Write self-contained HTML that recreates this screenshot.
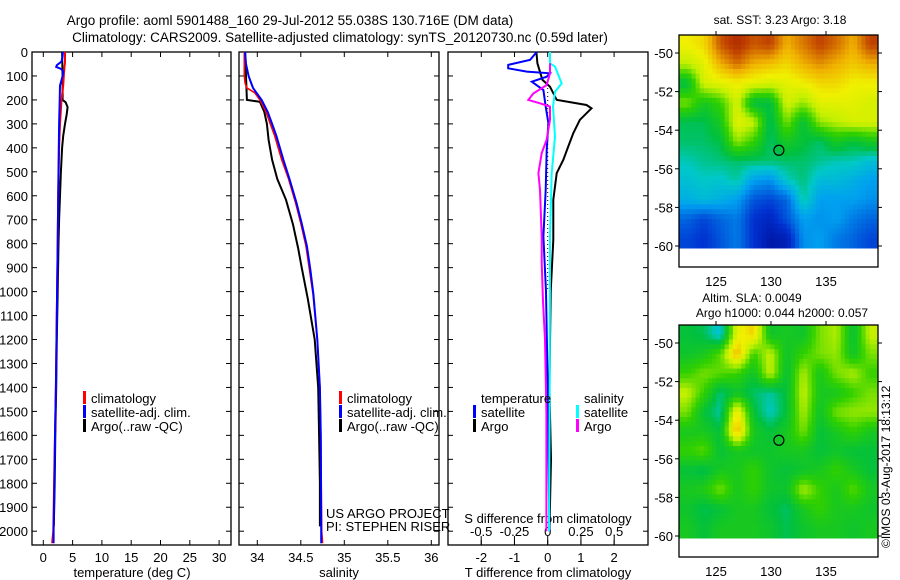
<!DOCTYPE html>
<html><head><meta charset="utf-8">
<style>
body{margin:0;background:#fff;}
svg{display:block;font-family:"Liberation Sans",sans-serif;}
text{fill:#000;}
</style></head>
<body>
<svg id="fig" width="900" height="580" viewBox="0 0 900 580" xmlns="http://www.w3.org/2000/svg">
<text x="290" y="25" font-size="13.5" text-anchor="middle">Argo profile: aoml 5901488_160 29-Jul-2012 55.038S 130.716E (DM data)</text>
<text x="340" y="42" font-size="13.5" text-anchor="middle">Climatology: CARS2009. Satellite-adjusted climatology: synTS_20120730.nc (0.59d later)</text>
<text x="780" y="24" font-size="12" text-anchor="middle">sat. SST: 3.23 Argo: 3.18</text>
<text x="752" y="302" font-size="12" text-anchor="middle">Altim. SLA: 0.0049</text>
<text x="782" y="317" font-size="12" text-anchor="middle">Argo h1000: 0.044 h2000: 0.057</text>
<text transform="translate(890,548) rotate(-90)" font-size="12">©IMOS 03-Aug-2017 18:13:12</text>
<g id="layer"></g>
</svg>
<script>
// ---------- data ----------
const depthTicks = [0,100,200,300,400,500,600,700,800,900,1000,1100,1200,1300,1400,1500,1600,1700,1800,1900,2000];
const tempTicks = [0,5,10,15,20,25,30];
const salTicks = [34,34.5,35,35.5,36];
const dTTicks = [-2,-1,0,1,2];
const dSTicks = [-0.5,-0.25,0,0.25,0.5];
const dSTickLabels = ["-0.5","-0.25","0","0.25","0.5"];

const depthT = [0,20,40,55,62,70,80,100,140,200,300,400,600,800,1000,1200,1400,1600,1800,2000,2050];
const tempClim = [3.7,3.7,3.7,3.65,3.6,3.6,3.55,3.5,3.4,3.1,2.85,2.7,2.55,2.45,2.35,2.25,2.15,2.0,1.85,1.7,1.5];
const tempSat = [3.35,3.3,3.1,2.3,2.2,3.0,3.4,3.3,2.85,2.8,2.7,2.65,2.55,2.45,2.35,2.25,2.15,2.0,1.9,1.75,1.75];
const depthTA = [0,50,100,150,200,210,230,260,300,350,400,500,600,700,800,1000,1200,1400,1600,1800,1980];
const tempArgo = [3.2,3.25,3.3,3.3,3.3,3.8,4.15,4.0,3.7,3.4,3.2,3.0,2.85,2.7,2.6,2.45,2.3,2.2,2.05,1.95,1.8];

const depthS = [0,50,100,130,150,170,200,250,300,350,450,530,630,715,810,910,1010,1200,1400,1600,2000,2050];
const salSat = [33.86,33.87,33.90,33.93,33.95,33.99,34.05,34.12,34.17,34.22,34.30,34.37,34.45,34.51,34.57,34.61,34.645,34.69,34.72,34.73,34.735,34.735];
const salClim = [33.85,33.85,33.85,33.86,33.88,33.97,34.03,34.10,34.15,34.20,34.28,34.36,34.44,34.50,34.56,34.60,34.64,34.69,34.72,34.73,34.74,34.75];
const depthSA = [0,100,200,208,250,300,367,450,530,617,720,820,900,1030,1200,1400,1600,1800,1980];
const salArgo = [33.86,33.87,33.88,34.03,34.08,34.11,34.13,34.17,34.23,34.33,34.41,34.47,34.51,34.58,34.66,34.70,34.71,34.72,34.72];

const dTSatDepth = [0,33,54,68,82,89,103,124,159,228,297,408,575,770,1000,1400,2000];
const dTSat = [-0.33,-0.53,-1.19,-1.19,-0.63,0.07,-0.03,-0.48,-0.13,-0.06,0.02,-0.03,-0.06,-0.13,-0.05,0.0,0.05];
const dTArgoDepth = [0,47,116,145,200,221,235,283,339,394,450,506,617,784,1000,1400,1700,2000];
const dTArgo = [-0.34,-0.31,-0.16,0.07,0.27,1.17,1.32,0.97,0.77,0.62,0.47,0.27,0.17,0.17,0.09,0.05,0.1,0.05];
const dSSatDepth = [0,47,61,131,166,228,353,506,770,1400,2000];
const dSSat = [0.017,0.017,0.055,0.105,0.055,0.04,0.055,0.03,0.017,0.015,0.01];
const dSArgoDepth = [47,89,138,173,200,214,228,283,367,422,506,575,770,880,1040,1200,1500,2000];
const dSArgo = [0.017,0.017,-0.008,-0.108,-0.146,-0.058,0.017,0.017,-0.008,-0.045,-0.07,-0.058,-0.045,-0.045,-0.035,-0.02,-0.01,-0.01];

const sstGrid = [
[0.72,0.75,0.88,0.93,0.88,0.9,0.8,0.85,0.9,0.86,0.8,0.9],
[0.65,0.7,0.8,0.86,0.8,0.78,0.75,0.8,0.83,0.8,0.77,0.8],
[0.45,0.68,0.7,0.72,0.7,0.68,0.7,0.72,0.75,0.75,0.72,0.72],
[0.6,0.5,0.55,0.68,0.45,0.45,0.68,0.62,0.7,0.7,0.7,0.68],
[0.44,0.44,0.5,0.7,0.66,0.43,0.6,0.46,0.62,0.65,0.68,0.68],
[0.43,0.43,0.45,0.62,0.55,0.43,0.5,0.46,0.43,0.5,0.46,0.5],
[0.39,0.41,0.42,0.43,0.43,0.43,0.43,0.43,0.41,0.39,0.39,0.36],
[0.36,0.38,0.37,0.4,0.3,0.28,0.38,0.42,0.35,0.35,0.33,0.3],
[0.33,0.35,0.33,0.3,0.2,0.18,0.22,0.4,0.3,0.3,0.3,0.28],
[0.22,0.18,0.22,0.25,0.15,0.12,0.2,0.3,0.28,0.3,0.25,0.22],
[0.18,0.15,0.2,0.25,0.15,0.08,0.1,0.28,0.3,0.25,0.22,0.18]];
const slaGrid = [
[0.46,0.44,0.36,0.7,0.76,0.48,0.5,0.48,0.6,0.64,0.46,0.66],
[0.48,0.5,0.58,0.8,0.55,0.66,0.48,0.55,0.6,0.62,0.48,0.6],
[0.55,0.6,0.58,0.55,0.48,0.66,0.46,0.64,0.5,0.6,0.64,0.55],
[0.66,0.55,0.42,0.48,0.43,0.4,0.46,0.66,0.5,0.5,0.55,0.6],
[0.6,0.46,0.4,0.74,0.46,0.38,0.46,0.64,0.48,0.6,0.62,0.62],
[0.5,0.5,0.46,0.8,0.5,0.46,0.5,0.6,0.46,0.5,0.55,0.5],
[0.55,0.58,0.46,0.5,0.48,0.48,0.5,0.5,0.46,0.48,0.46,0.46],
[0.46,0.44,0.5,0.5,0.55,0.48,0.46,0.48,0.5,0.55,0.5,0.46],
[0.5,0.52,0.6,0.5,0.55,0.48,0.48,0.64,0.55,0.5,0.58,0.5],
[0.48,0.44,0.46,0.5,0.5,0.46,0.43,0.5,0.55,0.5,0.5,0.48],
[0.5,0.46,0.5,0.5,0.5,0.48,0.44,0.48,0.5,0.5,0.48,0.5]];
const lonTicks = [125,130,135];
const latTicks = [-50,-52,-54,-56,-58,-60];
const floatLon = 130.716, floatLat = -55.038;

// ---------- helpers ----------
const NS = "http://www.w3.org/2000/svg";
const layer = document.getElementById('layer');
function mk(tag, attrs, parent){ const e=document.createElementNS(NS,tag); for(const k in attrs) e.setAttribute(k,attrs[k]); (parent||layer).appendChild(e); return e; }
function txt(x,y,s,size,anchor,parent){ const t=mk('text',{x:x,y:y,'font-size':size,'text-anchor':anchor||'start'},parent); t.textContent=s; return t; }

const TOP=52, BOT=545;
const yD = d => TOP + d*0.2396;
const xT = t => 43.3 + t*5.86;
const xS = s => 257.3 + (s-34)*87;
const xDT = v => 547.7 + v*33.2;
const xDS = v => 547.7 + v*133;
const panels = [[32,231],[239,439],[448,648]];

panels.forEach((p,i)=>{
  const g = mk('g',{});
  
  
  const r = mk('rect',{x:p[0],y:TOP,width:p[1]-p[0],height:BOT-TOP,fill:'none',stroke:'#000','stroke-width':1.3},g);
  
  
  depthTicks.forEach(d=>{
    mk('line',{x1:p[0],x2:p[0]+5,y1:yD(d),y2:yD(d),stroke:'#000'},g);
    mk('line',{x1:p[1],x2:p[1]-5,y1:yD(d),y2:yD(d),stroke:'#000'},g);
  });
});
depthTicks.forEach(d=>{
  const t = txt(28,yD(d)+5,String(d),13,'end');
  
  
});
function xAxis(ticks, fx, labels, y, pi, name){
  ticks.forEach((v,i)=>{
    const x=fx(v);
    mk('line',{x1:x,x2:x,y1:TOP,y2:TOP+5,stroke:'#000'});
    mk('line',{x1:x,x2:x,y1:BOT,y2:BOT-5,stroke:'#000'});
    const t=txt(x,y,labels?labels[i]:String(v),13,'middle');
    
    
  });
}
xAxis(tempTicks,xT,null,562,0,'temperature-tick-label');
xAxis(salTicks,xS,null,562,1,'salinity-tick-label');
xAxis(dTTicks,xDT,null,562,2,'t-diff-tick-label');
dSTicks.forEach((v,i)=>{
  const x=xDS(v);
  mk('line',{x1:x,x2:x,y1:BOT,y2:BOT-9,stroke:'#000'});
  const t=txt(x,536,dSTickLabels[i],13,'middle');
  
  
});
[[132,'temperature (deg C)','x-axis-title-temperature'],[339,'salinity','x-axis-title-salinity'],[548,'T difference from climatology','x-axis-title-t-diff']].forEach(a=>{
  const t=txt(a[0],577,a[1],13,'middle');
  
  
});
const sdt = txt(548,523,'S difference from climatology',13,'middle');


const zl = mk('line',{x1:xDT(0),x2:xDT(0),y1:yD(150),y2:yD(1000),stroke:'#000','stroke-dasharray':'1,3'});



function series(xs, ds, fx, color, name, w){
  const pts = xs.map((v,i)=>fx(v).toFixed(1)+','+yD(ds[i]).toFixed(1)).join(' ');
  const pl = mk('polyline',{points:pts,fill:'none',stroke:color,'stroke-width':w||2,'stroke-linejoin':'miter'});
  
  
}
series(tempArgo, depthTA, xT, '#000', 'argo-temperature-line');
series(tempClim, depthT, xT, '#f00', 'climatology-temperature-line');
series(tempSat, depthT, xT, '#00f', 'satellite-temperature-line');
series(salArgo, depthSA, xS, '#000', 'argo-salinity-line');
series(salClim, depthS, xS, '#f00', 'climatology-salinity-line', 1.6);
series(salSat, depthS, xS, '#00f', 'satellite-salinity-line');
series(dTArgo, dTArgoDepth, xDT, '#000', 'argo-t-diff-line');
series(dTSat, dTSatDepth, xDT, '#00f', 'satellite-t-diff-line');
series(dSSat, dSSatDepth, xDS, '#0ff', 'satellite-s-diff-line');
series(dSArgo, dSArgoDepth, xDS, '#f0f', 'argo-s-diff-line');

function legend(x,y,color,label,name){
  const r=mk('rect',{x:x,y:y-7,width:3,height:13,fill:color});
  
  
  const t=txt(x+8,y+5,label,13,'start');
  
  
}
[[32+51],[239+100]].forEach((p,i)=>{
  legend(p[0],398,'#f00','climatology','legend-climatology');
  legend(p[0],412,'#00f','satellite-adj. clim.','legend-satellite-adj');
  legend(p[0],426,'#000','Argo(..raw -QC)','legend-argo');
});
const lt=txt(481,403,'temperature',13,'start');  
const ls=txt(584,403,'salinity',13,'start');  
legend(473,412,'#00f','satellite','legend-t-satellite');
legend(473,426,'#000','Argo','legend-t-argo');
legend(576,412,'#0ff','satellite','legend-s-satellite');
legend(576,426,'#f0f','Argo','legend-s-argo');
const pj=txt(326,518,'US ARGO PROJECT',13,'start');  
const pi=txt(326,531,'PI: STEPHEN RISER',13,'start');  

// ---------- maps ----------
const stops=[[0,[0,0,128]],[0.15,[0,48,208]],[0.3,[0,160,240]],[0.38,[0,200,200]],[0.45,[0,192,64]],[0.55,[48,208,0]],[0.65,[192,240,0]],[0.72,[240,240,0]],[0.8,[240,176,0]],[0.9,[192,64,0]],[1,[144,0,0]]];
function cmap(v){
  for(let i=1;i<stops.length;i++){ if(v<=stops[i][0]){ const a=stops[i-1],b=stops[i],f=(v-a[0])/(b[0]-a[0]); return 'rgb('+a[1].map((c,k)=>Math.round(c+(b[1][k]-c)*f)).join(',')+')'; } }
  return 'rgb(144,0,0)';
}
function sample(grid, fr, fc){
  const rows=grid.length, cols=grid[0].length;
  const r=Math.min(Math.max(fr-0.5,0),rows-1), c=Math.min(Math.max(fc-0.5,0),cols-1);
  const r0=Math.floor(r), c0=Math.floor(c), r1=Math.min(r0+1,rows-1), c1=Math.min(c0+1,cols-1);
  const a=r-r0, b=c-c0;
  return grid[r0][c0]*(1-a)*(1-b)+grid[r0][c1]*(1-a)*b+grid[r1][c0]*a*(1-b)+grid[r1][c1]*a*b;
}
function drawMap(grid, top, name){
  const L=679,R=878,B=top+232, cTop=top, cBot=top+213;
  const g=mk('g',{});
  
  
  const rows=grid.length, cols=grid[0].length, sub=4;
  const nr=rows*sub, nc=cols*sub, cw=(R-L)/nc, ch=(cBot-cTop)/nr;
  for(let r=0;r<nr;r++) for(let c=0;c<nc;c++){
    const v=sample(grid,(r+0.5)/sub,(c+0.5)/sub);
    mk('rect',{x:(L+c*cw).toFixed(1),y:(cTop+r*ch).toFixed(1),width:(cw+0.5).toFixed(1),height:(ch+0.5).toFixed(1),fill:cmap(v)},g);
  }
  mk('rect',{x:L,y:top,width:R-L,height:B-top,fill:'none',stroke:'#000','stroke-width':1.3},g);
  const xl=lon=>716+(lon-125)*11, yl=lat=>top+18+(-50-lat)*19.3;
  lonTicks.forEach(v=>{
    mk('line',{x1:xl(v),x2:xl(v),y1:top,y2:top-4,stroke:'#000'},g);
    const t=txt(xl(v),B+19,String(v),13,'middle',g);
    
    
  });
  latTicks.forEach(v=>{
    mk('line',{x1:L,x2:L-4,y1:yl(v),y2:yl(v),stroke:'#000'},g);
    mk('line',{x1:R,x2:R+4,y1:yl(v),y2:yl(v),stroke:'#000'},g);
    const t=txt(L-6,yl(v)+5,String(v),13,'end',g);
    
    
  });
  const c=mk('circle',{cx:xl(floatLon),cy:yl(floatLat),r:5,fill:'none',stroke:'#000','stroke-width':1.2},g);
  
  
}
drawMap(sstGrid,35,'sst-map');
drawMap(slaGrid,325,'sla-map');
</script>
</body></html>
